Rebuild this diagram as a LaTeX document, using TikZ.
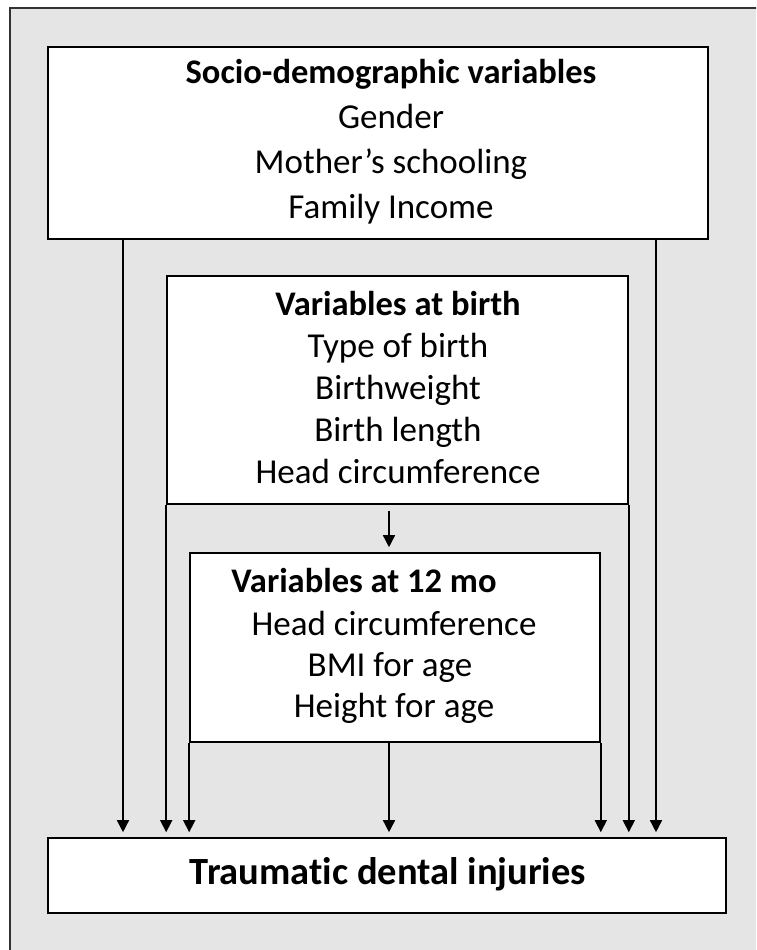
\documentclass[tikz,border=0pt]{standalone}
\usepackage{fontspec}
\setmainfont[Ligatures={NoCommon}]{Carlito}
\usetikzlibrary{arrows.meta}
\tikzset{
  box/.style={draw=black, line width=1.6pt, fill=white, inner sep=0pt, rectangle},
  txt/.style={anchor=base, inner sep=0pt, font=\fontsize{35}{42}\selectfont},
  ttl/.style={anchor=base, inner sep=0pt, font=\fontsize{34.5}{42}\selectfont\bfseries},
  big/.style={anchor=base, inner sep=0pt, font=\fontsize{38.5}{46}\selectfont\bfseries},
  arr/.style={line width=1.5pt, -{Triangle[length=12pt,width=12pt]}, shorten >=5pt},
}
\begin{document}
\begin{tikzpicture}[x=1pt,y=-1pt]
\useasboundingbox (0,0) rectangle (756,950);
\clip (0,0) rectangle (756,950);
\draw[draw=black!80, line width=2pt, fill=black!10] (10,8) rectangle (770,965);

\node[box, minimum width=660pt, minimum height=192pt] (socio) at (378,143) {};
\node[box, minimum width=461pt, minimum height=228pt] (birth) at (397.5,390) {};
\node[box, minimum width=410pt, minimum height=189pt] (twelve) at (395,647.5) {};
\node[box, minimum width=678pt, minimum height=75pt] (tdi) at (387,875.5) {};

\node[ttl] (s0) at (391,83) {Socio-demographic variables};
\node[txt] (s1) at (391,128) {Gender};
\node[txt] (s2) at (391,173) {Mother’s schooling};
\node[txt] (s3) at (391,218) {Family Income};

\node[ttl] (b0) at (398,315) {Variables at birth};
\node[txt] (b1) at (398,357) {Type of birth};
\node[txt] (b2) at (398,399) {Birthweight};
\node[txt] (b3) at (398,441) {Birth length};
\node[txt] (b4) at (398,483) {Head circumference};

\node[ttl] (t0) at (364,592) {Variables at 12 mo};
\node[txt] (t1) at (394,635) {Head circumference};
\node[txt] (t2) at (390,676) {BMI for age};
\node[txt] (t3) at (394,717) {Height for age};

\node[big] (d0) at (388,884) {Traumatic dental injuries};

\coordinate (sL) at (123,0);
\coordinate (sR) at (656,0);
\coordinate (mid) at (389,0);

\draw[arr] (socio.south -| sL) -- (tdi.north -| sL);
\draw[arr] (socio.south -| sR) -- (tdi.north -| sR);
\draw[arr] (birth.south west) -- (tdi.north -| birth.south west);
\draw[arr] (birth.south east) -- (tdi.north -| birth.south east);
\draw[arr] (twelve.south west) -- (tdi.north -| twelve.south west);
\draw[arr] (twelve.south east) -- (tdi.north -| twelve.south east);
\draw[arr] (twelve.south -| mid) -- (tdi.north -| mid);
\draw[arr, shorten <=6pt] (birth.south -| mid) -- (twelve.north -| mid);
\end{tikzpicture}
\end{document}
